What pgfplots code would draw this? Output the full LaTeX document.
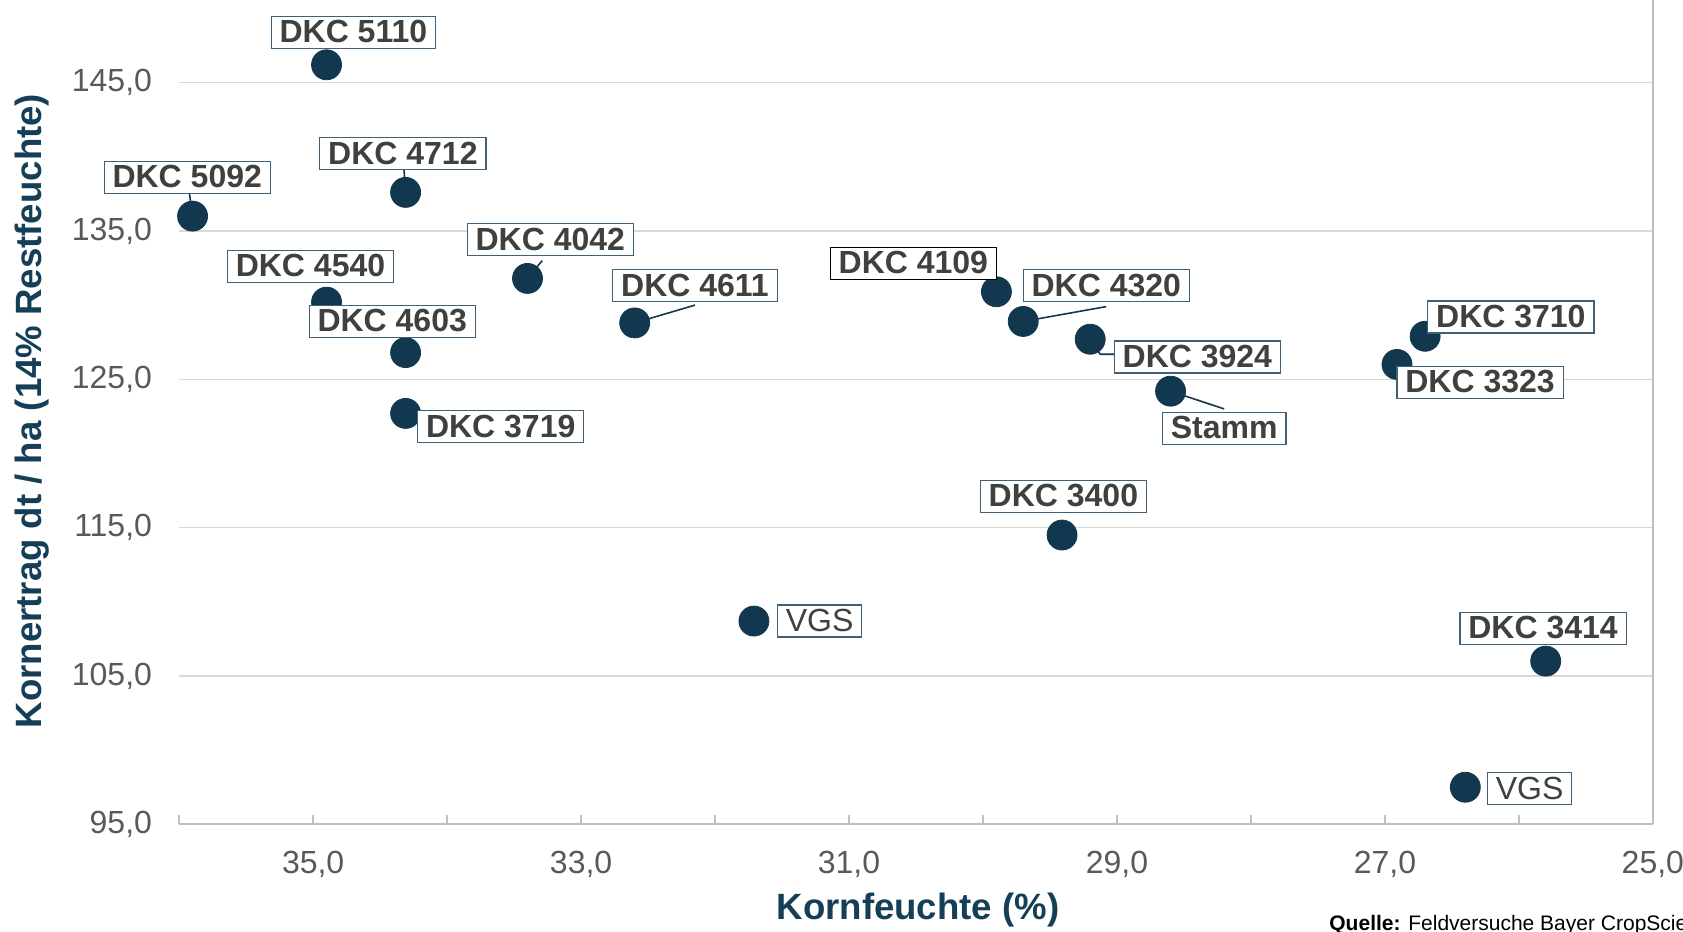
\documentclass[border=0pt]{standalone}
\usepackage{fontspec}
\setmainfont{Liberation Sans}
\usepackage{pgfplots}
\pgfplotsset{compat=1.18}

\definecolor{punkt}{HTML}{12384F}
\definecolor{titel}{HTML}{153E57}
\definecolor{ticktext}{HTML}{595959}
\definecolor{schrift}{HTML}{404040}
\definecolor{rahmen}{HTML}{3E6079}
\definecolor{gitter}{HTML}{D9D9D9}
\definecolor{achse}{HTML}{BFBFBF}

\tikzset{
  lbl/.style={draw=rahmen, line width=0.6pt, fill=white, text=schrift,
    font=\fontsize{16}{19}\selectfont\bfseries,
    inner xsep=4.2pt, inner ysep=0pt, text height=13.2pt, text depth=2.8pt},
  lblr/.style={lbl, font=\fontsize{16}{19}\selectfont},
  leader/.style={draw=punkt, line width=0.8pt},
}

\begin{document}
\begin{tikzpicture}
\begin{axis}[
  scale only axis,
  width=736.85pt, height=412.15pt,
  x dir=reverse,
  xmin=25, xmax=36, ymin=95, ymax=150.57,
  clip=false,
  axis line style={draw=none},
  xtick={25,27,...,35}, minor xtick={26,28,...,36},
  xtick pos=left,
  tick align=inside,
  major tick length=4.5pt, minor tick length=4.5pt,
  x tick style={draw=achse, line width=0.75pt},
  minor x tick style={draw=achse, line width=0.75pt},
  ytick={95,105,...,145},
  y tick style={draw=none},
  ymajorgrids,
  grid style={gitter, line width=0.75pt},
  xticklabel style={font=\fontsize{16}{19}\selectfont, text=ticktext, inner sep=0pt,
    anchor=north, yshift=-13pt,
    /pgf/number format/.cd, fixed, fixed zerofill, precision=1, use comma, assume math mode=true},
  yticklabel style={font=\fontsize{16}{19}\selectfont, text=ticktext, inner sep=0pt,
    anchor=east, xshift=-13.4pt,
    /pgf/number format/.cd, fixed, fixed zerofill, precision=1, use comma, assume math mode=true},
]
  % Achsenlinien
  \draw[achse, line width=1pt] (axis cs:25,95) -- (axis cs:36,95);
  \draw[achse, line width=1pt] (axis cs:25,95) -- (axis cs:25,150.57);

  % Verbindungslinien zu den Beschriftungen
  \draw[leader] (axis cs:35.90,136.0) -- (axis cs:35.94,138.6);
  \draw[leader] (axis cs:34.31,137.6) -- (axis cs:34.33,140.2);
  \draw[leader] (axis cs:33.40,131.8) -- (axis cs:33.29,133.0);
  \draw[leader] (axis cs:32.60,128.8) -- (axis cs:32.15,130.0);
  \draw[leader] (axis cs:29.70,128.9) -- (axis cs:29.08,129.9);
  \draw[leader] (axis cs:29.20,127.7) -- (axis cs:29.125,126.69) -- (axis cs:29.01,126.69);
  \draw[leader] (axis cs:28.60,124.2) -- (axis cs:28.20,123.0);

  \addplot[only marks, mark=*, mark size=7.5pt, color=punkt] coordinates {
    (34.90,146.2) (35.90,136.0) (34.31,137.6) (34.90,130.2)
    (34.31,126.8) (34.31,122.7) (33.40,131.8) (32.60,128.8)
    (31.71,108.7) (29.90,130.9) (29.70,128.9) (29.20,127.7)
    (28.60,124.2) (29.41,114.5) (26.70,127.9) (26.91,126.0)
    (25.80,106.0) (26.40,97.5)
  };

  % Positionen der Beschriftungen
  \coordinate (a) at (axis cs:34.70,148.4);
  \coordinate (b) at (axis cs:35.94,138.6);
  \coordinate (c) at (axis cs:34.33,140.2);
  \coordinate (d) at (axis cs:35.02,132.6);
  \coordinate (e) at (axis cs:34.41,128.9);
  \coordinate (f) at (axis cs:33.60,121.8);
  \coordinate (g) at (axis cs:33.23,134.4);
  \coordinate (h) at (axis cs:32.15,131.3);
  \coordinate (i) at (axis cs:31.22,108.7);
  \coordinate (j) at (axis cs:30.52,132.8);
  \coordinate (k) at (axis cs:29.08,131.3);
  \coordinate (l) at (axis cs:28.40,126.5);
  \coordinate (m) at (axis cs:28.20,121.7);
  \coordinate (n) at (axis cs:29.40,117.1);
  \coordinate (o) at (axis cs:26.06,129.2);
  \coordinate (p) at (axis cs:26.29,124.8);
  \coordinate (q) at (axis cs:25.82,108.2);
  \coordinate (r) at (axis cs:25.92,97.4);
\end{axis}

\node[lbl] at (a) {DKC 5110};
\node[lbl] at (b) {DKC 5092};
\node[lbl] at (c) {DKC 4712};
\node[lbl] at (d) {DKC 4540};
\node[lbl] at (e) {DKC 4603};
\node[lbl] at (f) {DKC 3719};
\node[lbl] at (g) {DKC 4042};
\node[lbl] at (h) {DKC 4611};
\node[lblr] at (i) {VGS};
\node[lbl, draw=black] at (j) {DKC 4109};
\node[lbl] at (k) {DKC 4320};
\node[lbl] at (l) {DKC 3924};
\node[lbl] at (m) {Stamm};
\node[lbl] at (n) {DKC 3400};
\node[lbl] at (o) {DKC 3710};
\node[lbl] at (p) {DKC 3323};
\node[lbl] at (q) {DKC 3414};
\node[lblr] at (r) {VGS};

\node[rotate=90, text=titel, font=\fontsize{18.3}{22}\selectfont\bfseries]
  at (-73.6pt,206.6pt) {Kornertrag dt / ha (14\% Restfeuchte)};
\node[text=titel, font=\fontsize{18.3}{22}\selectfont\bfseries]
  at (369.4pt,-42.9pt) {Kornfeuchte (\%)};
\node[anchor=base west, inner sep=0pt, text=black, font=\fontsize{10.5}{12}\selectfont]
  at (574.9pt,-52.9pt) {\textbf{Quelle:} Feldversuche Bayer CropScience};

\pgfresetboundingbox
\path[use as bounding box] (-89.6pt,-53.85pt) rectangle (751.9pt,412.15pt);
\end{tikzpicture}
\end{document}
